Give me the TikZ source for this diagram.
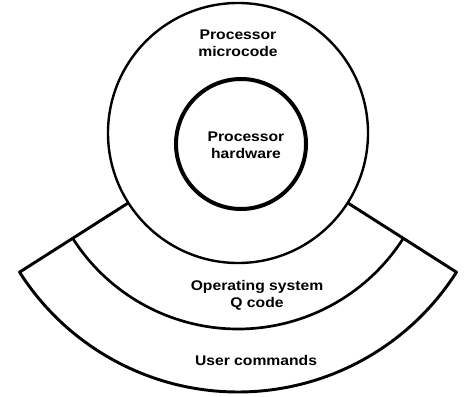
\documentclass[tikz,border=0pt]{standalone}
\usepackage{fontspec}
\setmainfont[FakeStretch=1.12]{Liberation Sans}
\usetikzlibrary{positioning}

\begin{document}
\begin{tikzpicture}[
                x=0.75pt, y=0.75pt,
                font=\fontsize{10.5}{13}\selectfont\bfseries,
                ring/.style={draw, line width=1.8pt},
                core/.style={draw, line width=3pt},
                fan/.style={draw, line width=2.2pt, line join=round},
                label/.style={align=center, inner sep=0pt}
                ]
                \useasboundingbox (0,0) rectangle (466,396);
                \coordinate (c) at (238,263);
                \coordinate (hwc) at (241,252);

                % processor rings
                \draw[ring] (c) circle (130);
                \draw[core] (hwc) circle (65);

                % operating system and user fan
                \begin{scope}[shift={(c)}]
                    \draw[fan] (212.5:130) -- (212.5:259)
                        arc[start angle=212.5, end angle=327.5, radius=259]
                        -- (327.5:130);
                    \draw[fan, line width=2pt] (212.5:196)
                        arc[start angle=212.5, end angle=327.5, radius=196];
                \end{scope}

                \node[label] (micro) at (238,352.5) {Processor\\microcode};
                \node[label] (hw) at (246,251) {Processor\\hardware};
                \node[label] (os) at (257,101) {Operating system\\Q code};
                \node[label] (user) at (256,36) {User commands};
            \end{tikzpicture}
\end{document}
